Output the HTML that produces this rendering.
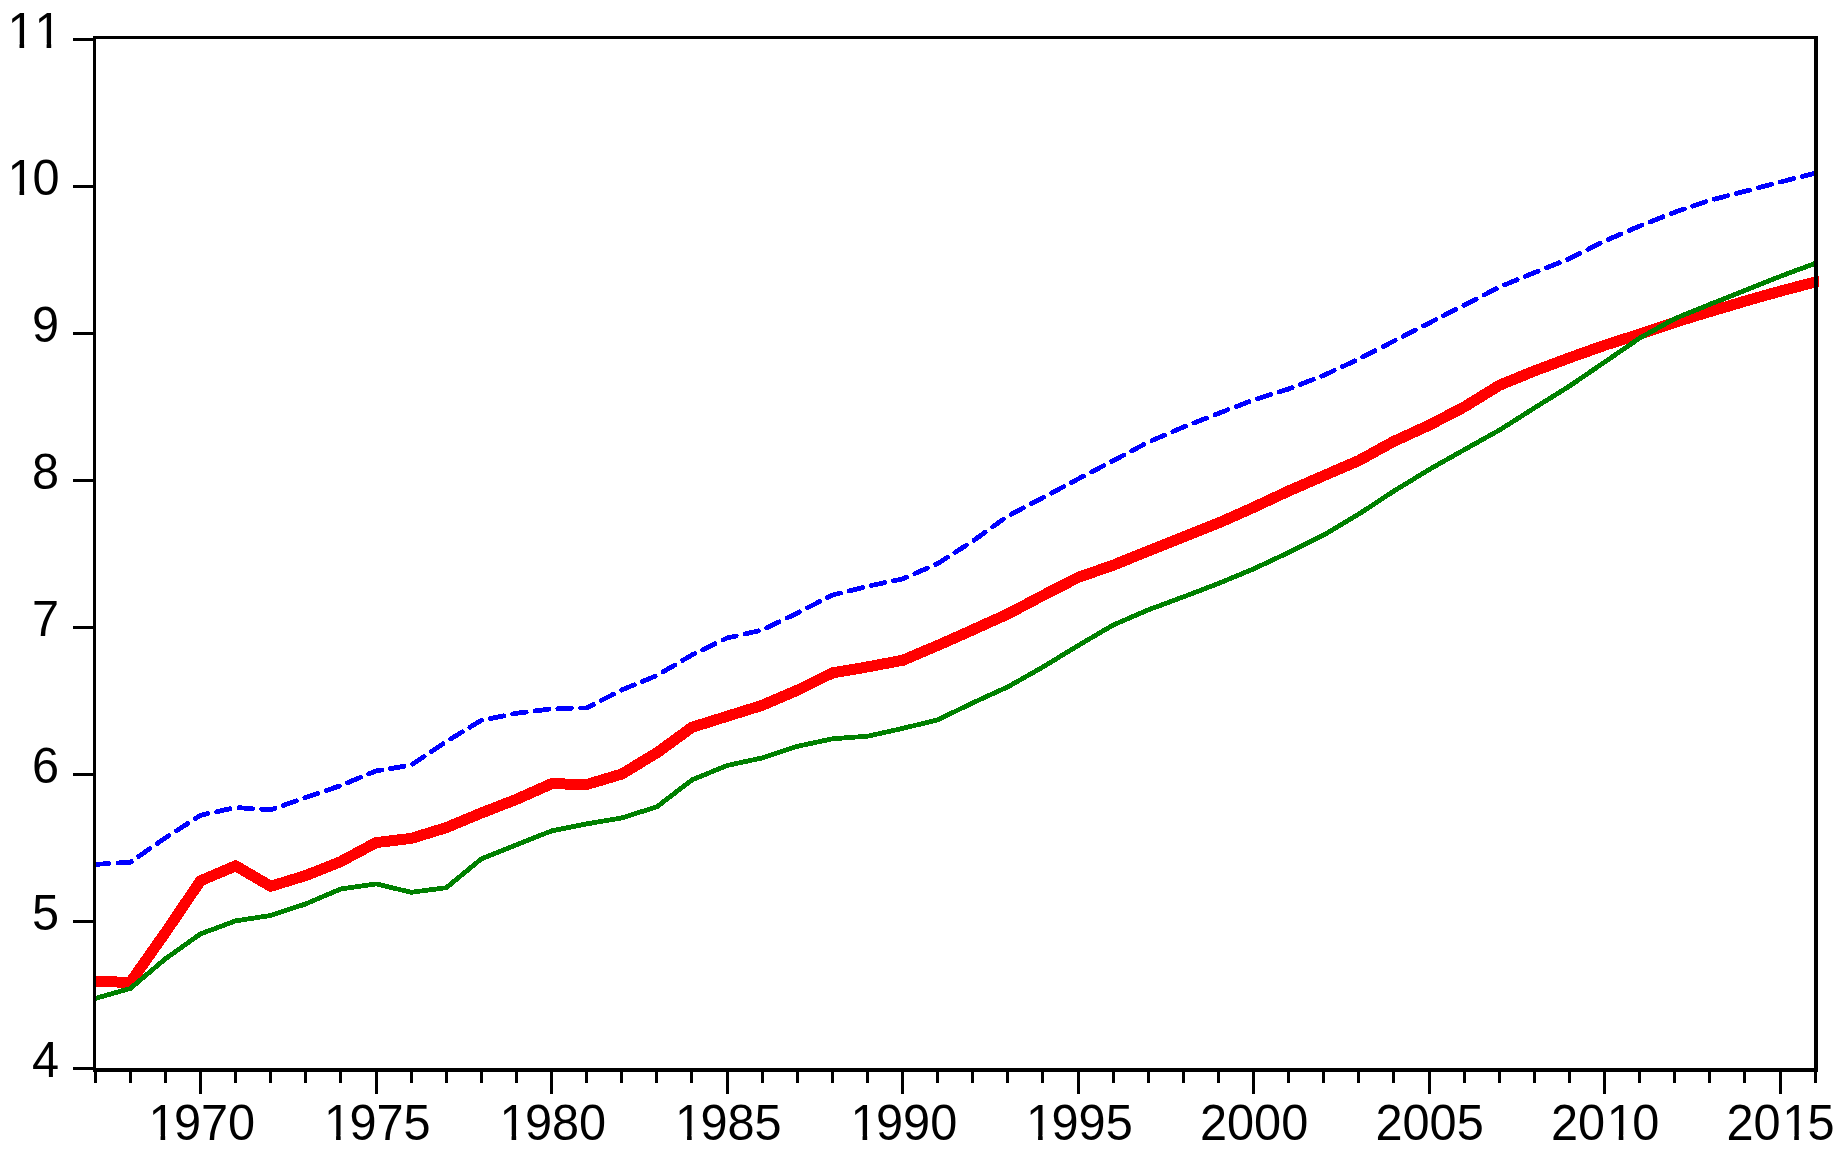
<!DOCTYPE html>
<html><head><meta charset="utf-8"><title>Chart</title>
<style>
html,body{margin:0;padding:0;background:#fff;}
body{width:1842px;height:1153px;overflow:hidden;}
svg{display:block;}
text{font-family:"Liberation Sans",sans-serif;font-size:48.7px;fill:#000;font-kerning:none;}
</style></head><body>
<svg width="1842" height="1153" viewBox="0 0 1842 1153">
<rect x="0" y="0" width="1842" height="1153" fill="#fff"/>

<g fill="none" stroke-linejoin="round" shape-rendering="crispEdges">
<polyline points="95.2,864.4 130.3,862.2 165.4,837.9 200.5,815.3 235.6,807.5 270.7,809.9 305.8,797.5 340.9,785.5 376.1,770.9 411.2,765.2 446.3,741.5 481.4,720.3 516.5,713.3 551.6,708.9 586.7,707.9 621.8,689.9 656.9,675.5 692.0,654.9 727.1,638.0 762.3,630.0 797.4,613.0 832.5,595.0 867.6,586.3 902.7,578.9 937.8,563.5 972.9,541.0 1008.0,515.9 1043.1,497.5 1078.2,478.9 1113.4,460.6 1148.5,442.0 1183.6,427.0 1218.7,413.3 1253.8,399.9 1288.9,388.9 1324.0,375.3 1359.1,358.9 1394.2,340.9 1429.4,322.9 1464.5,305.0 1499.6,287.0 1534.7,272.5 1569.8,258.5 1604.9,240.9 1640.0,225.9 1675.1,212.1 1710.2,200.2 1745.3,191.2 1780.5,182.0 1815.6,173.1" stroke="#0000ff" stroke-width="4.8" stroke-dasharray="13.7 9.0" stroke-linecap="round"/>
<polyline points="95.2,981.4 130.3,982.4 165.4,932.6 200.5,880.8 235.6,865.8 270.7,886.3 305.8,875.5 340.9,861.5 376.1,842.6 411.2,838.4 446.3,827.6 481.4,813.0 516.5,799.3 551.6,783.7 586.7,784.5 621.8,774.0 656.9,752.8 692.0,727.3 727.1,716.3 762.3,705.3 797.4,690.2 832.5,672.9 867.6,666.9 902.7,660.3 937.8,645.4 972.9,629.8 1008.0,613.9 1043.1,595.4 1078.2,577.4 1113.4,565.1 1148.5,550.9 1183.6,536.9 1218.7,522.9 1253.8,507.3 1288.9,490.9 1324.0,475.6 1359.1,460.4 1394.2,441.2 1429.4,425.1 1464.5,406.8 1499.6,385.2 1534.7,370.8 1569.8,357.7 1604.9,345.2 1640.0,334.0 1675.1,322.2 1710.2,311.5 1745.3,301.1 1780.5,291.1 1815.6,281.9 1819,281.6" stroke="#ff0000" stroke-width="11" stroke-linejoin="miter"/>
<polyline points="95.2,998.4 130.3,988.5 165.4,958.8 200.5,933.9 235.6,920.9 270.7,915.5 305.8,903.9 340.9,888.9 376.1,883.9 411.2,892.3 446.3,887.7 481.4,858.8 516.5,844.8 551.6,830.9 586.7,823.9 621.8,817.9 656.9,806.8 692.0,779.9 727.1,765.5 762.3,757.9 797.4,746.3 832.5,738.8 867.6,736.2 902.7,728.4 937.8,719.8 972.9,702.8 1008.0,686.8 1043.1,666.9 1078.2,645.5 1113.4,624.9 1148.5,609.8 1183.6,596.8 1218.7,583.4 1253.8,568.8 1288.9,552.4 1324.0,534.9 1359.1,513.9 1394.2,490.9 1429.4,469.4 1464.5,449.6 1499.6,430.0 1534.7,407.8 1569.8,385.9 1604.9,361.9 1640.0,337.9 1675.1,318.5 1710.2,304.2 1745.3,290.3 1780.5,276.3 1815.6,263.2" stroke="#008000" stroke-width="4.8"/>
</g>
<g fill="#000" shape-rendering="crispEdges">
<rect x="93" y="36" width="1725" height="3"/>
<rect x="93" y="36" width="3" height="1035.7"/>
<rect x="1814" y="36" width="4" height="1035.7"/>
<rect x="93" y="1068" width="1725" height="3.7"/>
<rect x="73" y="38.0" width="21" height="3"/>
<rect x="73" y="185.0" width="21" height="3"/>
<rect x="73" y="332.0" width="21" height="3"/>
<rect x="73" y="479.0" width="21" height="3"/>
<rect x="73" y="626.0" width="21" height="3"/>
<rect x="73" y="773.0" width="21" height="3"/>
<rect x="73" y="920.0" width="21" height="3"/>
<rect x="73" y="1067.0" width="21" height="3"/>
<rect x="94" y="1070" width="3" height="13"/>
<rect x="129" y="1070" width="3" height="13"/>
<rect x="164" y="1070" width="3" height="13"/>
<rect x="199" y="1070" width="3" height="24"/>
<rect x="234" y="1070" width="3" height="13"/>
<rect x="269" y="1070" width="3" height="13"/>
<rect x="304" y="1070" width="3" height="13"/>
<rect x="339" y="1070" width="3" height="13"/>
<rect x="375" y="1070" width="3" height="24"/>
<rect x="410" y="1070" width="3" height="13"/>
<rect x="445" y="1070" width="3" height="13"/>
<rect x="480" y="1070" width="3" height="13"/>
<rect x="515" y="1070" width="3" height="13"/>
<rect x="550" y="1070" width="3" height="24"/>
<rect x="585" y="1070" width="3" height="13"/>
<rect x="620" y="1070" width="3" height="13"/>
<rect x="655" y="1070" width="3" height="13"/>
<rect x="690" y="1070" width="3" height="13"/>
<rect x="726" y="1070" width="3" height="24"/>
<rect x="761" y="1070" width="3" height="13"/>
<rect x="796" y="1070" width="3" height="13"/>
<rect x="831" y="1070" width="3" height="13"/>
<rect x="866" y="1070" width="3" height="13"/>
<rect x="901" y="1070" width="3" height="24"/>
<rect x="936" y="1070" width="3" height="13"/>
<rect x="971" y="1070" width="3" height="13"/>
<rect x="1006" y="1070" width="3" height="13"/>
<rect x="1041" y="1070" width="3" height="13"/>
<rect x="1077" y="1070" width="3" height="24"/>
<rect x="1112" y="1070" width="3" height="13"/>
<rect x="1147" y="1070" width="3" height="13"/>
<rect x="1182" y="1070" width="3" height="13"/>
<rect x="1217" y="1070" width="3" height="13"/>
<rect x="1252" y="1070" width="3" height="24"/>
<rect x="1287" y="1070" width="3" height="13"/>
<rect x="1322" y="1070" width="3" height="13"/>
<rect x="1357" y="1070" width="3" height="13"/>
<rect x="1392" y="1070" width="3" height="13"/>
<rect x="1428" y="1070" width="3" height="24"/>
<rect x="1463" y="1070" width="3" height="13"/>
<rect x="1498" y="1070" width="3" height="13"/>
<rect x="1533" y="1070" width="3" height="13"/>
<rect x="1568" y="1070" width="3" height="13"/>
<rect x="1603" y="1070" width="3" height="24"/>
<rect x="1638" y="1070" width="3" height="13"/>
<rect x="1673" y="1070" width="3" height="13"/>
<rect x="1708" y="1070" width="3" height="13"/>
<rect x="1743" y="1070" width="3" height="13"/>
<rect x="1779" y="1070" width="3" height="24"/>
<rect x="1814" y="1070" width="3" height="13"/>
</g>
<rect x="1818" y="276.5" width="1" height="10.5" fill="#ff0000" shape-rendering="crispEdges"/>
<text transform="translate(0,48.00) scale(1,1.0267)" x="7.42 34.51" y="0">11</text>
<text transform="translate(0,195.00) scale(1,1.0267)" x="7.42 32.62" y="0">10</text>
<text transform="translate(0,342.00) scale(1,1.0267)" x="31.92" y="0">9</text>
<text transform="translate(0,489.00) scale(1,1.0267)" x="31.92" y="0">8</text>
<text transform="translate(0,636.00) scale(1,1.0267)" x="31.92" y="0">7</text>
<text transform="translate(0,783.00) scale(1,1.0267)" x="31.92" y="0">6</text>
<text transform="translate(0,930.00) scale(1,1.0267)" x="31.92" y="0">5</text>
<text transform="translate(0,1077.00) scale(1,1.0267)" x="31.92" y="0">4</text>
<text transform="translate(0,1139.70) scale(1,1.0267)" x="148.47 173.97 201.05 228.13" y="0">1970</text>
<text transform="translate(0,1139.70) scale(1,1.0267)" x="323.97 349.47 376.55 403.63" y="0">1975</text>
<text transform="translate(0,1139.70) scale(1,1.0267)" x="499.47 524.97 552.05 579.13" y="0">1980</text>
<text transform="translate(0,1139.70) scale(1,1.0267)" x="674.97 700.47 727.55 754.63" y="0">1985</text>
<text transform="translate(0,1139.70) scale(1,1.0267)" x="850.47 875.97 903.05 930.13" y="0">1990</text>
<text transform="translate(0,1139.70) scale(1,1.0267)" x="1025.97 1051.47 1078.55 1105.63" y="0">1995</text>
<text transform="translate(0,1139.70) scale(1,1.0267)" x="1199.88 1226.97 1254.05 1281.13" y="0">2000</text>
<text transform="translate(0,1139.70) scale(1,1.0267)" x="1375.38 1402.47 1429.55 1456.63" y="0">2005</text>
<text transform="translate(0,1139.70) scale(1,1.0267)" x="1550.88 1577.97 1606.64 1632.13" y="0">2010</text>
<text transform="translate(0,1139.70) scale(1,1.0267)" x="1726.38 1753.47 1782.14 1807.63" y="0">2015</text>
<rect x="9.39" y="43.46" width="10.13" height="5.54" fill="#fff"/>
<rect x="24.12" y="43.46" width="8.90" height="5.54" fill="#fff"/>
<rect x="36.48" y="43.46" width="10.13" height="5.54" fill="#fff"/>
<rect x="51.21" y="43.46" width="8.90" height="5.54" fill="#fff"/>
<rect x="9.39" y="190.46" width="10.13" height="5.54" fill="#fff"/>
<rect x="24.12" y="190.46" width="8.90" height="5.54" fill="#fff"/>
<rect x="150.44" y="1135.16" width="10.13" height="5.54" fill="#fff"/>
<rect x="165.17" y="1135.16" width="8.90" height="5.54" fill="#fff"/>
<rect x="325.94" y="1135.16" width="10.13" height="5.54" fill="#fff"/>
<rect x="340.67" y="1135.16" width="8.90" height="5.54" fill="#fff"/>
<rect x="501.44" y="1135.16" width="10.13" height="5.54" fill="#fff"/>
<rect x="516.17" y="1135.16" width="8.90" height="5.54" fill="#fff"/>
<rect x="676.94" y="1135.16" width="10.13" height="5.54" fill="#fff"/>
<rect x="691.67" y="1135.16" width="8.90" height="5.54" fill="#fff"/>
<rect x="852.44" y="1135.16" width="10.13" height="5.54" fill="#fff"/>
<rect x="867.17" y="1135.16" width="8.90" height="5.54" fill="#fff"/>
<rect x="1027.94" y="1135.16" width="10.13" height="5.54" fill="#fff"/>
<rect x="1042.67" y="1135.16" width="8.90" height="5.54" fill="#fff"/>
<rect x="1608.61" y="1135.16" width="10.13" height="5.54" fill="#fff"/>
<rect x="1623.34" y="1135.16" width="8.90" height="5.54" fill="#fff"/>
<rect x="1784.11" y="1135.16" width="10.13" height="5.54" fill="#fff"/>
<rect x="1798.84" y="1135.16" width="8.90" height="5.54" fill="#fff"/>
</svg></body></html>
